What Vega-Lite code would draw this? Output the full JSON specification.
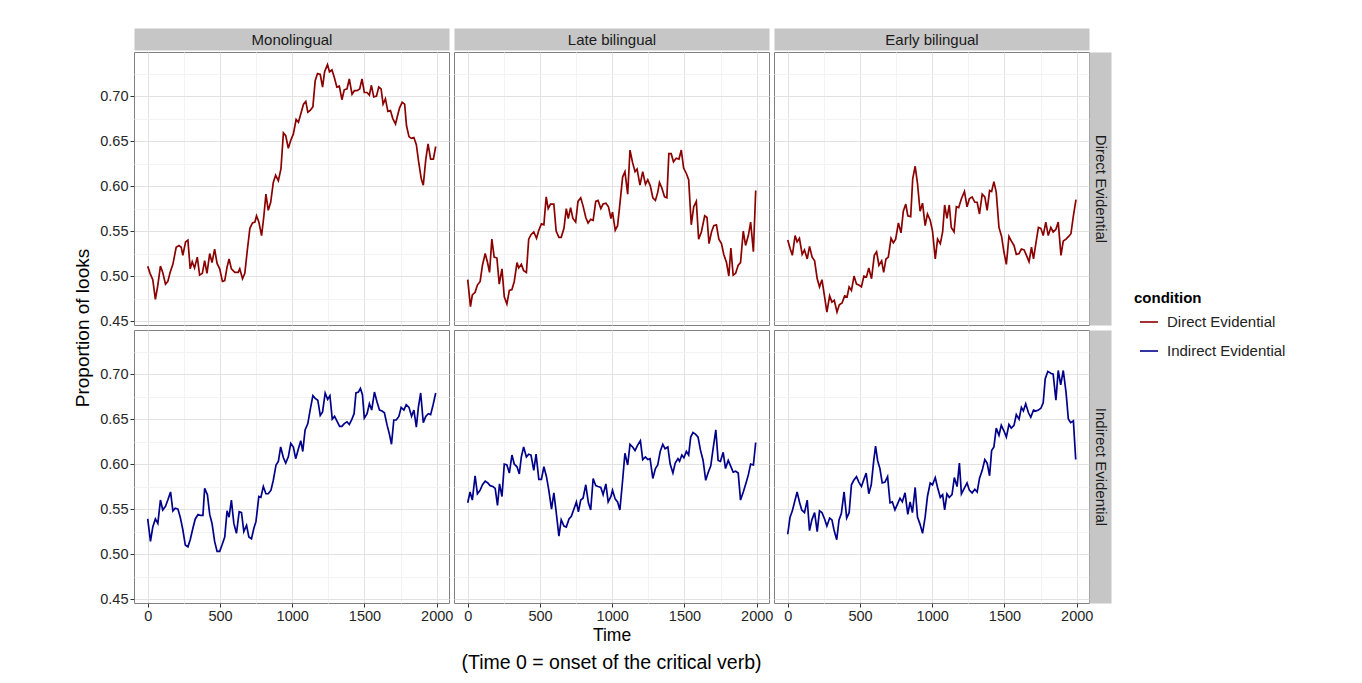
{
  "$schema": "https://vega.github.io/schema/vega-lite/v6.json",
  "autosize": {"type": "pad"},
  "padding": {"left": 73, "top": 31, "right": 5, "bottom": 4},
  "background": "white",
  "config": {
    "font": "Liberation Sans",
    "view": {"stroke": "#808080", "strokeWidth": 1},
    "axis": {"domain": false, "tickColor": "#333333", "tickSize": 4, "tickWidth": 1, "labelColor": "#262626", "labelFontSize": 14.5, "labelPadding": 2, "titleFontWeight": "normal", "titleColor": "#000000", "gridWidth": 1},
    "legend": {"orient": "none", "legendX": 1000, "legendY": 239, "padding": 0, "titleFontSize": 15, "titleFontWeight": "bold", "titleColor": "#000000", "labelFontSize": 15, "labelColor": "#222222", "symbolType": "stroke", "symbolStrokeWidth": 1.6, "symbolSize": 324, "rowPadding": 11, "titlePadding": 6, "labelOffset": 8, "symbolOffset": 5}
  },
  "datasets": {
    "md": [{"time":0,"prop":0.511},{"time":16,"prop":0.503},{"time":35,"prop":0.496},{"time":53,"prop":0.474},{"time":70,"prop":0.490},{"time":88,"prop":0.511},{"time":104,"prop":0.504},{"time":123,"prop":0.491},{"time":139,"prop":0.494},{"time":155,"prop":0.504},{"time":174,"prop":0.513},{"time":197,"prop":0.532},{"time":216,"prop":0.534},{"time":232,"prop":0.532},{"time":243,"prop":0.523},{"time":262,"prop":0.538},{"time":278,"prop":0.540},{"time":294,"prop":0.508},{"time":308,"prop":0.516},{"time":324,"prop":0.509},{"time":343,"prop":0.521},{"time":359,"prop":0.501},{"time":378,"prop":0.503},{"time":394,"prop":0.517},{"time":410,"prop":0.503},{"time":429,"prop":0.525},{"time":445,"prop":0.515},{"time":463,"prop":0.530},{"time":480,"prop":0.514},{"time":498,"prop":0.508},{"time":517,"prop":0.494},{"time":533,"prop":0.495},{"time":549,"prop":0.510},{"time":563,"prop":0.519},{"time":579,"prop":0.508},{"time":603,"prop":0.504},{"time":626,"prop":0.504},{"time":637,"prop":0.508},{"time":656,"prop":0.497},{"time":672,"prop":0.503},{"time":688,"prop":0.527},{"time":707,"prop":0.553},{"time":725,"prop":0.559},{"time":742,"prop":0.560},{"time":753,"prop":0.567},{"time":769,"prop":0.560},{"time":788,"prop":0.545},{"time":804,"prop":0.567},{"time":818,"prop":0.591},{"time":834,"prop":0.573},{"time":851,"prop":0.582},{"time":869,"prop":0.604},{"time":885,"prop":0.612},{"time":904,"prop":0.606},{"time":922,"prop":0.619},{"time":939,"prop":0.659},{"time":955,"prop":0.656},{"time":973,"prop":0.642},{"time":990,"prop":0.651},{"time":1008,"prop":0.658},{"time":1027,"prop":0.674},{"time":1043,"prop":0.671},{"time":1059,"prop":0.680},{"time":1078,"prop":0.691},{"time":1094,"prop":0.694},{"time":1108,"prop":0.682},{"time":1124,"prop":0.684},{"time":1143,"prop":0.688},{"time":1159,"prop":0.717},{"time":1175,"prop":0.725},{"time":1194,"prop":0.724},{"time":1210,"prop":0.710},{"time":1224,"prop":0.727},{"time":1244,"prop":0.735},{"time":1258,"prop":0.727},{"time":1275,"prop":0.729},{"time":1291,"prop":0.721},{"time":1309,"prop":0.710},{"time":1326,"prop":0.711},{"time":1344,"prop":0.696},{"time":1360,"prop":0.707},{"time":1379,"prop":0.708},{"time":1395,"prop":0.719},{"time":1414,"prop":0.702},{"time":1430,"prop":0.706},{"time":1448,"prop":0.706},{"time":1467,"prop":0.708},{"time":1483,"prop":0.719},{"time":1499,"prop":0.704},{"time":1518,"prop":0.704},{"time":1534,"prop":0.701},{"time":1548,"prop":0.712},{"time":1564,"prop":0.699},{"time":1583,"prop":0.700},{"time":1599,"prop":0.710},{"time":1615,"prop":0.708},{"time":1629,"prop":0.691},{"time":1645,"prop":0.697},{"time":1662,"prop":0.683},{"time":1680,"prop":0.684},{"time":1696,"prop":0.675},{"time":1715,"prop":0.669},{"time":1727,"prop":0.677},{"time":1743,"prop":0.687},{"time":1761,"prop":0.693},{"time":1778,"prop":0.691},{"time":1791,"prop":0.667},{"time":1808,"prop":0.655},{"time":1824,"prop":0.653},{"time":1842,"prop":0.654},{"time":1859,"prop":0.646},{"time":1875,"prop":0.627},{"time":1893,"prop":0.608},{"time":1907,"prop":0.601},{"time":1924,"prop":0.629},{"time":1940,"prop":0.647},{"time":1958,"prop":0.630},{"time":1977,"prop":0.630},{"time":1993,"prop":0.644}],
    "ld": [{"time":0,"prop":0.496},{"time":19,"prop":0.466},{"time":32,"prop":0.479},{"time":51,"prop":0.482},{"time":67,"prop":0.490},{"time":86,"prop":0.494},{"time":102,"prop":0.512},{"time":121,"prop":0.525},{"time":137,"prop":0.515},{"time":151,"prop":0.504},{"time":167,"prop":0.541},{"time":183,"prop":0.521},{"time":202,"prop":0.520},{"time":218,"prop":0.491},{"time":237,"prop":0.508},{"time":253,"prop":0.477},{"time":271,"prop":0.469},{"time":288,"prop":0.484},{"time":306,"prop":0.485},{"time":322,"prop":0.494},{"time":341,"prop":0.515},{"time":353,"prop":0.509},{"time":371,"prop":0.513},{"time":387,"prop":0.506},{"time":406,"prop":0.504},{"time":422,"prop":0.541},{"time":438,"prop":0.546},{"time":457,"prop":0.549},{"time":476,"prop":0.542},{"time":492,"prop":0.551},{"time":510,"prop":0.558},{"time":527,"prop":0.557},{"time":543,"prop":0.588},{"time":557,"prop":0.575},{"time":573,"prop":0.580},{"time":596,"prop":0.580},{"time":612,"prop":0.550},{"time":631,"prop":0.543},{"time":647,"prop":0.543},{"time":666,"prop":0.553},{"time":682,"prop":0.575},{"time":696,"prop":0.564},{"time":712,"prop":0.576},{"time":728,"prop":0.564},{"time":747,"prop":0.560},{"time":763,"prop":0.583},{"time":782,"prop":0.587},{"time":798,"prop":0.578},{"time":817,"prop":0.565},{"time":833,"prop":0.559},{"time":851,"prop":0.563},{"time":868,"prop":0.562},{"time":886,"prop":0.583},{"time":902,"prop":0.584},{"time":921,"prop":0.575},{"time":937,"prop":0.580},{"time":956,"prop":0.581},{"time":974,"prop":0.577},{"time":991,"prop":0.564},{"time":1002,"prop":0.571},{"time":1021,"prop":0.551},{"time":1037,"prop":0.556},{"time":1053,"prop":0.580},{"time":1072,"prop":0.610},{"time":1088,"prop":0.616},{"time":1107,"prop":0.591},{"time":1123,"prop":0.640},{"time":1141,"prop":0.626},{"time":1158,"prop":0.616},{"time":1172,"prop":0.619},{"time":1192,"prop":0.601},{"time":1211,"prop":0.616},{"time":1230,"prop":0.602},{"time":1246,"prop":0.607},{"time":1264,"prop":0.600},{"time":1281,"prop":0.587},{"time":1299,"prop":0.584},{"time":1315,"prop":0.593},{"time":1327,"prop":0.604},{"time":1343,"prop":0.598},{"time":1362,"prop":0.588},{"time":1378,"prop":0.587},{"time":1392,"prop":0.636},{"time":1408,"prop":0.636},{"time":1424,"prop":0.627},{"time":1443,"prop":0.631},{"time":1462,"prop":0.630},{"time":1478,"prop":0.640},{"time":1494,"prop":0.620},{"time":1513,"prop":0.614},{"time":1529,"prop":0.607},{"time":1547,"prop":0.557},{"time":1564,"prop":0.577},{"time":1582,"prop":0.583},{"time":1598,"prop":0.541},{"time":1617,"prop":0.549},{"time":1640,"prop":0.567},{"time":1656,"prop":0.565},{"time":1670,"prop":0.536},{"time":1687,"prop":0.549},{"time":1703,"prop":0.556},{"time":1721,"prop":0.557},{"time":1738,"prop":0.541},{"time":1756,"prop":0.536},{"time":1772,"prop":0.524},{"time":1791,"prop":0.515},{"time":1807,"prop":0.500},{"time":1821,"prop":0.531},{"time":1837,"prop":0.501},{"time":1854,"prop":0.503},{"time":1872,"prop":0.512},{"time":1888,"prop":0.515},{"time":1907,"prop":0.550},{"time":1923,"prop":0.534},{"time":1942,"prop":0.545},{"time":1958,"prop":0.560},{"time":1977,"prop":0.527},{"time":1993,"prop":0.595}],
    "ed": [{"time":0,"prop":0.540},{"time":16,"prop":0.531},{"time":32,"prop":0.523},{"time":51,"prop":0.545},{"time":65,"prop":0.538},{"time":81,"prop":0.542},{"time":100,"prop":0.524},{"time":116,"prop":0.529},{"time":135,"prop":0.519},{"time":151,"prop":0.533},{"time":169,"prop":0.521},{"time":186,"prop":0.517},{"time":204,"prop":0.497},{"time":220,"prop":0.488},{"time":237,"prop":0.496},{"time":255,"prop":0.477},{"time":271,"prop":0.460},{"time":290,"prop":0.478},{"time":306,"prop":0.471},{"time":322,"prop":0.473},{"time":341,"prop":0.460},{"time":357,"prop":0.468},{"time":376,"prop":0.470},{"time":394,"prop":0.478},{"time":411,"prop":0.477},{"time":425,"prop":0.488},{"time":441,"prop":0.484},{"time":459,"prop":0.500},{"time":476,"prop":0.491},{"time":492,"prop":0.490},{"time":510,"prop":0.488},{"time":527,"prop":0.500},{"time":545,"prop":0.499},{"time":561,"prop":0.509},{"time":580,"prop":0.497},{"time":599,"prop":0.523},{"time":615,"prop":0.527},{"time":631,"prop":0.512},{"time":650,"prop":0.517},{"time":664,"prop":0.504},{"time":680,"prop":0.519},{"time":696,"prop":0.521},{"time":715,"prop":0.542},{"time":731,"prop":0.537},{"time":747,"prop":0.541},{"time":766,"prop":0.559},{"time":784,"prop":0.548},{"time":800,"prop":0.572},{"time":817,"prop":0.580},{"time":831,"prop":0.567},{"time":851,"prop":0.566},{"time":865,"prop":0.608},{"time":882,"prop":0.622},{"time":898,"prop":0.603},{"time":916,"prop":0.572},{"time":933,"prop":0.581},{"time":951,"prop":0.556},{"time":967,"prop":0.569},{"time":986,"prop":0.562},{"time":1002,"prop":0.550},{"time":1021,"prop":0.519},{"time":1037,"prop":0.541},{"time":1056,"prop":0.536},{"time":1072,"prop":0.549},{"time":1086,"prop":0.579},{"time":1102,"prop":0.564},{"time":1118,"prop":0.579},{"time":1132,"prop":0.554},{"time":1151,"prop":0.549},{"time":1167,"prop":0.577},{"time":1183,"prop":0.576},{"time":1202,"prop":0.586},{"time":1223,"prop":0.594},{"time":1241,"prop":0.577},{"time":1257,"prop":0.586},{"time":1276,"prop":0.588},{"time":1295,"prop":0.582},{"time":1311,"prop":0.582},{"time":1327,"prop":0.569},{"time":1346,"prop":0.591},{"time":1364,"prop":0.588},{"time":1380,"prop":0.573},{"time":1397,"prop":0.595},{"time":1411,"prop":0.594},{"time":1427,"prop":0.605},{"time":1443,"prop":0.593},{"time":1462,"prop":0.554},{"time":1480,"prop":0.544},{"time":1496,"prop":0.527},{"time":1513,"prop":0.513},{"time":1531,"prop":0.544},{"time":1547,"prop":0.539},{"time":1566,"prop":0.534},{"time":1582,"prop":0.524},{"time":1601,"prop":0.525},{"time":1617,"prop":0.530},{"time":1636,"prop":0.529},{"time":1652,"prop":0.523},{"time":1670,"prop":0.516},{"time":1687,"prop":0.532},{"time":1701,"prop":0.519},{"time":1717,"prop":0.536},{"time":1735,"prop":0.554},{"time":1752,"prop":0.553},{"time":1768,"prop":0.545},{"time":1786,"prop":0.560},{"time":1803,"prop":0.545},{"time":1821,"prop":0.554},{"time":1837,"prop":0.549},{"time":1856,"prop":0.552},{"time":1872,"prop":0.560},{"time":1891,"prop":0.523},{"time":1907,"prop":0.539},{"time":1926,"prop":0.541},{"time":1944,"prop":0.544},{"time":1960,"prop":0.547},{"time":1977,"prop":0.567},{"time":1995,"prop":0.585}],
    "mi": [{"time":0,"prop":0.539},{"time":19,"prop":0.514},{"time":35,"prop":0.530},{"time":53,"prop":0.539},{"time":70,"prop":0.534},{"time":88,"prop":0.560},{"time":104,"prop":0.549},{"time":123,"prop":0.553},{"time":139,"prop":0.560},{"time":158,"prop":0.569},{"time":174,"prop":0.548},{"time":190,"prop":0.551},{"time":209,"prop":0.550},{"time":225,"prop":0.541},{"time":243,"prop":0.527},{"time":260,"prop":0.510},{"time":278,"prop":0.508},{"time":294,"prop":0.516},{"time":313,"prop":0.529},{"time":329,"prop":0.539},{"time":348,"prop":0.544},{"time":364,"prop":0.543},{"time":382,"prop":0.543},{"time":394,"prop":0.573},{"time":413,"prop":0.566},{"time":429,"prop":0.544},{"time":445,"prop":0.534},{"time":463,"prop":0.514},{"time":480,"prop":0.503},{"time":498,"prop":0.503},{"time":514,"prop":0.510},{"time":533,"prop":0.519},{"time":549,"prop":0.548},{"time":563,"prop":0.541},{"time":579,"prop":0.560},{"time":596,"prop":0.534},{"time":614,"prop":0.523},{"time":633,"prop":0.547},{"time":649,"prop":0.546},{"time":665,"prop":0.525},{"time":684,"prop":0.532},{"time":700,"prop":0.519},{"time":718,"prop":0.517},{"time":735,"prop":0.529},{"time":749,"prop":0.536},{"time":769,"prop":0.564},{"time":783,"prop":0.563},{"time":800,"prop":0.575},{"time":818,"prop":0.567},{"time":834,"prop":0.567},{"time":853,"prop":0.571},{"time":869,"prop":0.582},{"time":888,"prop":0.599},{"time":904,"prop":0.603},{"time":920,"prop":0.619},{"time":939,"prop":0.607},{"time":955,"prop":0.601},{"time":973,"prop":0.608},{"time":990,"prop":0.623},{"time":1008,"prop":0.619},{"time":1024,"prop":0.606},{"time":1043,"prop":0.617},{"time":1059,"prop":0.626},{"time":1073,"prop":0.614},{"time":1089,"prop":0.638},{"time":1108,"prop":0.645},{"time":1124,"prop":0.660},{"time":1143,"prop":0.676},{"time":1159,"prop":0.673},{"time":1177,"prop":0.671},{"time":1194,"prop":0.654},{"time":1210,"prop":0.658},{"time":1228,"prop":0.679},{"time":1245,"prop":0.672},{"time":1261,"prop":0.676},{"time":1277,"prop":0.650},{"time":1293,"prop":0.653},{"time":1309,"prop":0.648},{"time":1328,"prop":0.642},{"time":1344,"prop":0.642},{"time":1360,"prop":0.645},{"time":1379,"prop":0.647},{"time":1395,"prop":0.644},{"time":1411,"prop":0.649},{"time":1428,"prop":0.656},{"time":1441,"prop":0.679},{"time":1458,"prop":0.680},{"time":1472,"prop":0.684},{"time":1486,"prop":0.677},{"time":1499,"prop":0.651},{"time":1518,"prop":0.656},{"time":1534,"prop":0.667},{"time":1550,"prop":0.660},{"time":1569,"prop":0.680},{"time":1587,"prop":0.669},{"time":1604,"prop":0.660},{"time":1622,"prop":0.659},{"time":1638,"prop":0.657},{"time":1657,"prop":0.643},{"time":1673,"prop":0.633},{"time":1687,"prop":0.622},{"time":1703,"prop":0.649},{"time":1720,"prop":0.649},{"time":1738,"prop":0.653},{"time":1754,"prop":0.663},{"time":1773,"prop":0.660},{"time":1789,"prop":0.666},{"time":1808,"prop":0.663},{"time":1826,"prop":0.653},{"time":1842,"prop":0.660},{"time":1859,"prop":0.641},{"time":1873,"prop":0.663},{"time":1889,"prop":0.679},{"time":1907,"prop":0.646},{"time":1924,"prop":0.653},{"time":1942,"prop":0.656},{"time":1958,"prop":0.655},{"time":1975,"prop":0.666},{"time":1993,"prop":0.679}],
    "li": [{"time":0,"prop":0.557},{"time":16,"prop":0.569},{"time":32,"prop":0.560},{"time":51,"prop":0.587},{"time":67,"prop":0.567},{"time":86,"prop":0.571},{"time":102,"prop":0.577},{"time":121,"prop":0.581},{"time":139,"prop":0.579},{"time":155,"prop":0.576},{"time":174,"prop":0.575},{"time":190,"prop":0.573},{"time":206,"prop":0.554},{"time":220,"prop":0.578},{"time":237,"prop":0.564},{"time":253,"prop":0.600},{"time":271,"prop":0.599},{"time":288,"prop":0.590},{"time":306,"prop":0.610},{"time":322,"prop":0.600},{"time":341,"prop":0.597},{"time":357,"prop":0.589},{"time":371,"prop":0.608},{"time":387,"prop":0.619},{"time":406,"prop":0.608},{"time":422,"prop":0.611},{"time":438,"prop":0.610},{"time":457,"prop":0.593},{"time":473,"prop":0.611},{"time":492,"prop":0.583},{"time":510,"prop":0.583},{"time":527,"prop":0.597},{"time":545,"prop":0.586},{"time":561,"prop":0.571},{"time":580,"prop":0.550},{"time":596,"prop":0.568},{"time":612,"prop":0.547},{"time":631,"prop":0.520},{"time":647,"prop":0.538},{"time":666,"prop":0.531},{"time":682,"prop":0.530},{"time":701,"prop":0.539},{"time":717,"prop":0.542},{"time":735,"prop":0.550},{"time":752,"prop":0.558},{"time":766,"prop":0.547},{"time":782,"prop":0.560},{"time":798,"prop":0.562},{"time":817,"prop":0.577},{"time":835,"prop":0.557},{"time":851,"prop":0.549},{"time":868,"prop":0.584},{"time":886,"prop":0.576},{"time":902,"prop":0.575},{"time":921,"prop":0.574},{"time":937,"prop":0.566},{"time":956,"prop":0.578},{"time":972,"prop":0.558},{"time":991,"prop":0.564},{"time":1002,"prop":0.571},{"time":1021,"prop":0.561},{"time":1037,"prop":0.558},{"time":1053,"prop":0.549},{"time":1072,"prop":0.582},{"time":1088,"prop":0.612},{"time":1107,"prop":0.599},{"time":1123,"prop":0.622},{"time":1141,"prop":0.619},{"time":1158,"prop":0.615},{"time":1176,"prop":0.621},{"time":1195,"prop":0.626},{"time":1211,"prop":0.605},{"time":1230,"prop":0.608},{"time":1246,"prop":0.605},{"time":1262,"prop":0.606},{"time":1281,"prop":0.584},{"time":1299,"prop":0.595},{"time":1315,"prop":0.599},{"time":1332,"prop":0.614},{"time":1350,"prop":0.622},{"time":1366,"prop":0.617},{"time":1385,"prop":0.619},{"time":1401,"prop":0.600},{"time":1420,"prop":0.590},{"time":1436,"prop":0.601},{"time":1455,"prop":0.606},{"time":1466,"prop":0.603},{"time":1482,"prop":0.610},{"time":1496,"prop":0.607},{"time":1513,"prop":0.614},{"time":1529,"prop":0.610},{"time":1543,"prop":0.630},{"time":1559,"prop":0.635},{"time":1578,"prop":0.633},{"time":1594,"prop":0.630},{"time":1610,"prop":0.616},{"time":1629,"prop":0.604},{"time":1647,"prop":0.582},{"time":1663,"prop":0.590},{"time":1682,"prop":0.598},{"time":1698,"prop":0.617},{"time":1717,"prop":0.638},{"time":1733,"prop":0.604},{"time":1749,"prop":0.603},{"time":1768,"prop":0.613},{"time":1784,"prop":0.595},{"time":1803,"prop":0.604},{"time":1819,"prop":0.598},{"time":1837,"prop":0.591},{"time":1854,"prop":0.592},{"time":1872,"prop":0.590},{"time":1888,"prop":0.560},{"time":1907,"prop":0.569},{"time":1926,"prop":0.579},{"time":1942,"prop":0.588},{"time":1958,"prop":0.600},{"time":1977,"prop":0.599},{"time":1993,"prop":0.624}],
    "ei": [{"time":0,"prop":0.522},{"time":16,"prop":0.541},{"time":32,"prop":0.548},{"time":46,"prop":0.557},{"time":65,"prop":0.569},{"time":81,"prop":0.558},{"time":97,"prop":0.549},{"time":116,"prop":0.546},{"time":135,"prop":0.560},{"time":151,"prop":0.526},{"time":167,"prop":0.538},{"time":186,"prop":0.546},{"time":204,"prop":0.525},{"time":220,"prop":0.548},{"time":237,"prop":0.546},{"time":255,"prop":0.539},{"time":271,"prop":0.531},{"time":290,"prop":0.540},{"time":306,"prop":0.538},{"time":320,"prop":0.527},{"time":339,"prop":0.516},{"time":355,"prop":0.538},{"time":371,"prop":0.545},{"time":390,"prop":0.569},{"time":408,"prop":0.540},{"time":425,"prop":0.546},{"time":441,"prop":0.577},{"time":457,"prop":0.582},{"time":476,"prop":0.586},{"time":492,"prop":0.580},{"time":510,"prop":0.575},{"time":527,"prop":0.583},{"time":543,"prop":0.590},{"time":561,"prop":0.567},{"time":578,"prop":0.577},{"time":596,"prop":0.605},{"time":608,"prop":0.620},{"time":622,"prop":0.604},{"time":638,"prop":0.595},{"time":654,"prop":0.579},{"time":673,"prop":0.580},{"time":691,"prop":0.586},{"time":708,"prop":0.557},{"time":724,"prop":0.558},{"time":742,"prop":0.549},{"time":761,"prop":0.556},{"time":777,"prop":0.562},{"time":793,"prop":0.558},{"time":812,"prop":0.568},{"time":831,"prop":0.544},{"time":847,"prop":0.558},{"time":863,"prop":0.546},{"time":882,"prop":0.574},{"time":898,"prop":0.541},{"time":916,"prop":0.533},{"time":933,"prop":0.523},{"time":951,"prop":0.541},{"time":967,"prop":0.564},{"time":986,"prop":0.579},{"time":1002,"prop":0.577},{"time":1021,"prop":0.585},{"time":1037,"prop":0.574},{"time":1056,"prop":0.563},{"time":1072,"prop":0.566},{"time":1086,"prop":0.549},{"time":1102,"prop":0.567},{"time":1118,"prop":0.563},{"time":1137,"prop":0.566},{"time":1153,"prop":0.585},{"time":1172,"prop":0.575},{"time":1188,"prop":0.601},{"time":1202,"prop":0.567},{"time":1218,"prop":0.572},{"time":1241,"prop":0.579},{"time":1257,"prop":0.571},{"time":1276,"prop":0.568},{"time":1295,"prop":0.572},{"time":1311,"prop":0.569},{"time":1327,"prop":0.584},{"time":1346,"prop":0.593},{"time":1364,"prop":0.605},{"time":1380,"prop":0.601},{"time":1397,"prop":0.587},{"time":1411,"prop":0.615},{"time":1427,"prop":0.619},{"time":1443,"prop":0.640},{"time":1462,"prop":0.632},{"time":1478,"prop":0.643},{"time":1496,"prop":0.637},{"time":1513,"prop":0.630},{"time":1531,"prop":0.644},{"time":1547,"prop":0.640},{"time":1566,"prop":0.643},{"time":1582,"prop":0.655},{"time":1601,"prop":0.650},{"time":1617,"prop":0.663},{"time":1631,"prop":0.659},{"time":1647,"prop":0.667},{"time":1666,"prop":0.657},{"time":1682,"prop":0.652},{"time":1701,"prop":0.660},{"time":1717,"prop":0.659},{"time":1735,"prop":0.660},{"time":1752,"prop":0.662},{"time":1768,"prop":0.668},{"time":1782,"prop":0.695},{"time":1800,"prop":0.703},{"time":1821,"prop":0.701},{"time":1837,"prop":0.700},{"time":1856,"prop":0.671},{"time":1872,"prop":0.704},{"time":1889,"prop":0.688},{"time":1907,"prop":0.704},{"time":1926,"prop":0.680},{"time":1942,"prop":0.650},{"time":1958,"prop":0.646},{"time":1977,"prop":0.648},{"time":1993,"prop":0.605}]
  },
  "bounds": "flush",
  "columns": 3,
  "spacing": 5,
  "concat": [
    {
      "width": 315, "height": 273, "data": {"name": "md"},
      "mark": {"type": "line", "strokeWidth": 1.7},
      "encoding": {
        "x": {"field": "time", "type": "quantitative", "scale": {"domain": [-95, 2085], "nice": false, "zero": false}, "axis": {"orient": "top", "values": [0,250,500,750,1000,1250,1500,1750,2000], "labels": false, "ticks": false, "domain": true, "domainColor": "#c6c6c6", "domainWidth": 22, "offset": 13, "title": "Monolingual", "titleFontSize": 15, "titleColor": "#1a1a1a", "titleBaseline": "middle", "titleY": 0, "titlePadding": 0, "gridColor": {"condition": {"test": "datum.value % 500 === 0", "value": "#e2e2e2"}, "value": "#f3f3f3"}}},
        "y": {"field": "prop", "type": "quantitative", "scale": {"domain": [0.4456, 0.749], "nice": false, "zero": false}, "axis": {"values": [0.45,0.475,0.5,0.525,0.55,0.575,0.6,0.625,0.65,0.675,0.7,0.725], "format": ".2f", "title": "Proportion of looks", "titleY": 275.5, "titleFontSize": 19, "titlePadding": 7, "labelOverlap": false, "labelExpr": "round(datum.value * 1000) % 50 === 0 ? datum.label : ''", "tickOpacity": {"condition": {"test": "round(datum.value * 1000) % 50 === 0", "value": 1}, "value": 0}, "gridColor": {"condition": {"test": "round(datum.value * 1000) % 50 === 0", "value": "#e2e2e2"}, "value": "#f3f3f3"}}},
        "color": {"datum": "Direct Evidential", "type": "nominal", "scale": {"domain": ["Direct Evidential", "Indirect Evidential"], "range": ["#8B0000", "#00008B"]}, "legend": {"title": "condition"}}
      }
    },
    {
      "width": 315, "height": 273, "data": {"name": "ld"},
      "mark": {"type": "line", "strokeWidth": 1.7},
      "encoding": {
        "x": {"field": "time", "type": "quantitative", "scale": {"domain": [-95, 2085], "nice": false, "zero": false}, "axis": {"orient": "top", "values": [0,250,500,750,1000,1250,1500,1750,2000], "labels": false, "ticks": false, "domain": true, "domainColor": "#c6c6c6", "domainWidth": 22, "offset": 13, "title": "Late bilingual", "titleFontSize": 15, "titleColor": "#1a1a1a", "titleBaseline": "middle", "titleY": 0, "titlePadding": 0, "gridColor": {"condition": {"test": "datum.value % 500 === 0", "value": "#e2e2e2"}, "value": "#f3f3f3"}}},
        "y": {"field": "prop", "type": "quantitative", "scale": {"domain": [0.4456, 0.749], "nice": false, "zero": false}, "axis": {"values": [0.45,0.475,0.5,0.525,0.55,0.575,0.6,0.625,0.65,0.675,0.7,0.725], "labels": false, "ticks": false, "title": null, "gridColor": {"condition": {"test": "round(datum.value * 1000) % 50 === 0", "value": "#e2e2e2"}, "value": "#f3f3f3"}}},
        "color": {"datum": "Direct Evidential", "type": "nominal", "scale": {"domain": ["Direct Evidential", "Indirect Evidential"], "range": ["#8B0000", "#00008B"]}, "legend": {"title": "condition"}}
      }
    },
    {
      "width": 315, "height": 273, "data": {"name": "ed"},
      "mark": {"type": "line", "strokeWidth": 1.7},
      "encoding": {
        "x": {"field": "time", "type": "quantitative", "scale": {"domain": [-95, 2085], "nice": false, "zero": false}, "axis": {"orient": "top", "values": [0,250,500,750,1000,1250,1500,1750,2000], "labels": false, "ticks": false, "domain": true, "domainColor": "#c6c6c6", "domainWidth": 22, "offset": 13, "title": "Early bilingual", "titleFontSize": 15, "titleColor": "#1a1a1a", "titleBaseline": "middle", "titleY": 0, "titlePadding": 0, "gridColor": {"condition": {"test": "datum.value % 500 === 0", "value": "#e2e2e2"}, "value": "#f3f3f3"}}},
        "y": {"field": "prop", "type": "quantitative", "scale": {"domain": [0.4456, 0.749], "nice": false, "zero": false}, "axis": {"orient": "right", "values": [0.45,0.475,0.5,0.525,0.55,0.575,0.6,0.625,0.65,0.675,0.7,0.725], "labels": false, "ticks": false, "domain": true, "domainColor": "#c6c6c6", "domainWidth": 22, "offset": 11, "title": "Direct Evidential", "titleFontSize": 15, "titleColor": "#1a1a1a", "titleAngle": 90, "titleBaseline": "middle", "titleX": 0, "titlePadding": 0, "gridColor": {"condition": {"test": "round(datum.value * 1000) % 50 === 0", "value": "#e2e2e2"}, "value": "#f3f3f3"}}},
        "color": {"datum": "Direct Evidential", "type": "nominal", "scale": {"domain": ["Direct Evidential", "Indirect Evidential"], "range": ["#8B0000", "#00008B"]}, "legend": {"title": "condition"}}
      }
    },
    {
      "width": 315, "height": 273, "data": {"name": "mi"},
      "mark": {"type": "line", "strokeWidth": 1.7},
      "encoding": {
        "x": {"field": "time", "type": "quantitative", "scale": {"domain": [-95, 2085], "nice": false, "zero": false}, "axis": {"values": [0,250,500,750,1000,1250,1500,1750,2000], "format": "d", "title": null, "labelFlush": false, "labelOverlap": false, "labelExpr": "datum.value % 500 === 0 ? datum.label : ''", "tickOpacity": {"condition": {"test": "datum.value % 500 === 0", "value": 1}, "value": 0}, "gridColor": {"condition": {"test": "datum.value % 500 === 0", "value": "#e2e2e2"}, "value": "#f3f3f3"}}},
        "y": {"field": "prop", "type": "quantitative", "scale": {"domain": [0.4456, 0.749], "nice": false, "zero": false}, "axis": {"values": [0.45,0.475,0.5,0.525,0.55,0.575,0.6,0.625,0.65,0.675,0.7,0.725], "format": ".2f", "title": null, "labelOverlap": false, "labelExpr": "round(datum.value * 1000) % 50 === 0 ? datum.label : ''", "tickOpacity": {"condition": {"test": "round(datum.value * 1000) % 50 === 0", "value": 1}, "value": 0}, "gridColor": {"condition": {"test": "round(datum.value * 1000) % 50 === 0", "value": "#e2e2e2"}, "value": "#f3f3f3"}}},
        "color": {"datum": "Indirect Evidential", "type": "nominal", "scale": {"domain": ["Direct Evidential", "Indirect Evidential"], "range": ["#8B0000", "#00008B"]}, "legend": {"title": "condition"}}
      }
    },
    {
      "width": 315, "height": 273, "data": {"name": "li"},
      "title": {"text": "(Time 0 = onset of the critical verb)", "orient": "bottom", "anchor": "middle", "frame": "group", "fontSize": 19.5, "fontWeight": "normal", "color": "#000000", "offset": 10},
      "mark": {"type": "line", "strokeWidth": 1.7},
      "encoding": {
        "x": {"field": "time", "type": "quantitative", "scale": {"domain": [-95, 2085], "nice": false, "zero": false}, "axis": {"values": [0,250,500,750,1000,1250,1500,1750,2000], "format": "d", "title": "Time", "titleFontSize": 17.5, "titlePadding": 4, "labelFlush": false, "labelOverlap": false, "labelExpr": "datum.value % 500 === 0 ? datum.label : ''", "tickOpacity": {"condition": {"test": "datum.value % 500 === 0", "value": 1}, "value": 0}, "gridColor": {"condition": {"test": "datum.value % 500 === 0", "value": "#e2e2e2"}, "value": "#f3f3f3"}}},
        "y": {"field": "prop", "type": "quantitative", "scale": {"domain": [0.4456, 0.749], "nice": false, "zero": false}, "axis": {"values": [0.45,0.475,0.5,0.525,0.55,0.575,0.6,0.625,0.65,0.675,0.7,0.725], "labels": false, "ticks": false, "title": null, "gridColor": {"condition": {"test": "round(datum.value * 1000) % 50 === 0", "value": "#e2e2e2"}, "value": "#f3f3f3"}}},
        "color": {"datum": "Indirect Evidential", "type": "nominal", "scale": {"domain": ["Direct Evidential", "Indirect Evidential"], "range": ["#8B0000", "#00008B"]}, "legend": {"title": "condition"}}
      }
    },
    {
      "width": 315, "height": 273, "data": {"name": "ei"},
      "mark": {"type": "line", "strokeWidth": 1.7},
      "encoding": {
        "x": {"field": "time", "type": "quantitative", "scale": {"domain": [-95, 2085], "nice": false, "zero": false}, "axis": {"values": [0,250,500,750,1000,1250,1500,1750,2000], "format": "d", "title": null, "labelFlush": false, "labelOverlap": false, "labelExpr": "datum.value % 500 === 0 ? datum.label : ''", "tickOpacity": {"condition": {"test": "datum.value % 500 === 0", "value": 1}, "value": 0}, "gridColor": {"condition": {"test": "datum.value % 500 === 0", "value": "#e2e2e2"}, "value": "#f3f3f3"}}},
        "y": {"field": "prop", "type": "quantitative", "scale": {"domain": [0.4456, 0.749], "nice": false, "zero": false}, "axis": {"orient": "right", "values": [0.45,0.475,0.5,0.525,0.55,0.575,0.6,0.625,0.65,0.675,0.7,0.725], "labels": false, "ticks": false, "domain": true, "domainColor": "#c6c6c6", "domainWidth": 22, "offset": 11, "title": "Indirect Evidential", "titleFontSize": 15, "titleColor": "#1a1a1a", "titleAngle": 90, "titleBaseline": "middle", "titleX": 0, "titlePadding": 0, "gridColor": {"condition": {"test": "round(datum.value * 1000) % 50 === 0", "value": "#e2e2e2"}, "value": "#f3f3f3"}}},
        "color": {"datum": "Indirect Evidential", "type": "nominal", "scale": {"domain": ["Direct Evidential", "Indirect Evidential"], "range": ["#8B0000", "#00008B"]}, "legend": {"title": "condition"}}
      }
    }
  ]
}
